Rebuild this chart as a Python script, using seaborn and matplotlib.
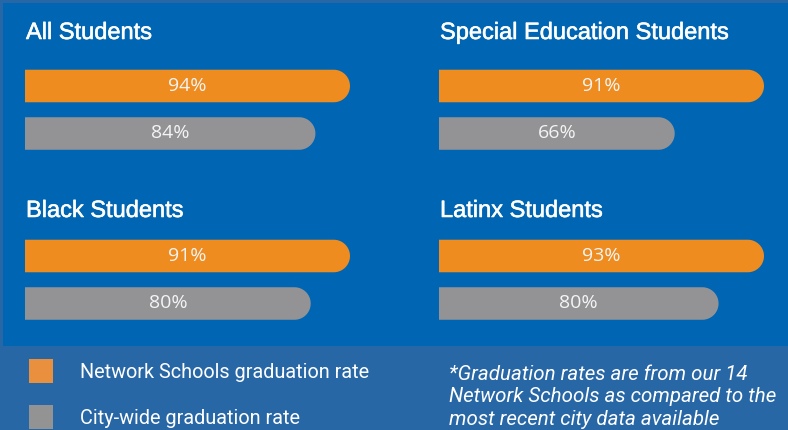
import matplotlib
matplotlib.use("Agg")
import matplotlib.pyplot as plt
import matplotlib.patheffects as pe
import seaborn as sns
import numpy as np
import pandas as pd
from matplotlib.patches import Rectangle, PathPatch, Patch
from matplotlib.path import Path
from matplotlib.transforms import IdentityTransform

# data
groups = ["All Students", "Special Education Students", "Black Students", "Latinx Students"]
series = ["Network Schools graduation rate", "City-wide graduation rate"]
network_rate = [94, 91, 91, 93]
city_rate = [84, 66, 80, 80]
footnote = ("*Graduation rates are from our 14\n"
            "Network Schools as compared to the\n"
            "most recent city data available")

ORANGE = "#EF8C1F"
GRAY = "#939396"
BLUE = "#0065B2"
BG = "#2867A6"

W, H = 788, 430

def fx(px):
    return px / W

def fy(py):
    return 1 - py / H

sns.set_theme(style="white")
plt.rcParams['font.family'] = ['Liberation Sans', 'DejaVu Sans']

df = pd.DataFrame({
    "group": np.repeat(groups, 2),
    "series": series * len(groups),
    "rate": [v for pair in zip(network_rate, city_rate) for v in pair],
})

fig = plt.figure(figsize=(W / 100, H / 100), dpi=100, facecolor=BG)
fig.add_artist(Rectangle((fx(3), fy(346)), (W - 3) / W, (346 - 3) / H,
                         transform=fig.transFigure, facecolor=BLUE, lw=0, zorder=-1))

# panel positions in pixels: left edge, title y, first bar center y
panels = [(25, 33, 86), (439, 33, 86), (25, 211, 256), (439, 211, 256)]
bar_px = 325      # length of the orange bar in every panel
ax_w = 340
step = 47.5       # distance between the two bar centers

def round_right(ax, patch, color):
    x, y, w, h = patch.get_x(), patch.get_y(), patch.get_width(), patch.get_height()
    X0, Ya = ax.transData.transform((x, y))
    X1, Yb = ax.transData.transform((x + w, y + h))
    ylo, yhi = min(Ya, Yb), max(Ya, Yb)
    r = (yhi - ylo) / 2
    cy = (yhi + ylo) / 2
    t = np.linspace(np.pi / 2, -np.pi / 2, 40)
    arc = list(zip(X1 - r + r * np.cos(t), cy + r * np.sin(t)))
    verts = [(X0, yhi)] + arc + [(X0, ylo), (X0, yhi)]
    pp = PathPatch(Path(verts, closed=True), transform=IdentityTransform(),
                   facecolor=color, lw=0, zorder=1, clip_on=False)
    ax.add_patch(pp)
    patch.set_visible(False)

for g, (left, ty, cy0), nval in zip(groups, panels, network_rate):
    top = cy0 - step / 2
    ax = fig.add_axes([fx(left), fy(top + 2 * step), fx(ax_w), 2 * step / H])
    sub = df[df["group"] == g]
    sns.barplot(data=sub, x="rate", y="series", hue="series", order=series,
                hue_order=series, palette=[ORANGE, GRAY], orient="h",
                width=0.685, ax=ax, legend=False, saturation=1)
    ax.set_xlim(0, nval * ax_w / bar_px)
    ax.set_ylim(1.5, -0.5)
    ax.axis("off")
    ax.patch.set_alpha(0)
    for cont in ax.containers:
        ax.bar_label(cont, labels=[f"{v:.0f}%" for v in cont.datavalues],
                     label_type="center", color="#F4F4F4", fontsize=14,
                     family="Open Sans")
    for p, c in zip(list(ax.patches), [ORANGE, GRAY]):
        round_right(ax, p, c)
    fig.text(fx(left + 1), fy(ty), g, color="white", fontsize=17,
             va="center", ha="left",
             path_effects=[pe.withStroke(linewidth=0.4, foreground="white")])

handles = [Patch(facecolor="#E9903E", lw=0), Patch(facecolor="#939393", lw=0)]
fig.legend(handles, series, loc="upper left", bbox_to_anchor=(fx(29), fy(359)),
           frameon=False, borderpad=0, borderaxespad=0,
           handlelength=1.21, handleheight=1.48, handletextpad=1.35,
           labelspacing=1.12, labelcolor="white",
           prop={"family": "Roboto", "size": 14.3})

fig.text(fx(449), fy(397), footnote, color="white", fontsize=14.8,
         family="Roboto", style="italic", va="center", ha="left",
         linespacing=1.215)

fig.savefig("out.png", dpi=100, facecolor=BG)
